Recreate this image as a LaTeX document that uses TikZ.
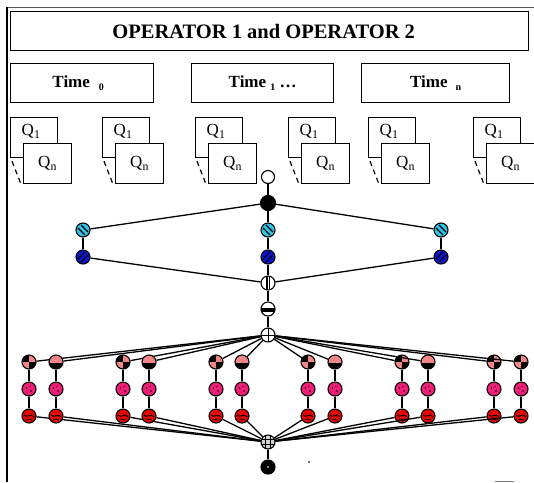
\documentclass[tikz,border=0pt]{standalone}
\usepackage{fontspec}
\setmainfont{Liberation Serif}
\definecolor{cyanc}{HTML}{2EC4E8}
\definecolor{bluec}{HTML}{0A14D2}
\definecolor{pinkc}{HTML}{F2878A}
\definecolor{magc}{HTML}{F01E78}
\definecolor{redc}{HTML}{E60000}
\tikzset{
  bigbox/.style={draw=black, line width=1.4pt, fill=white, anchor=north west, inner sep=0pt},
  qbox/.style={draw=black, line width=1.2pt, fill=white, anchor=north west, inner sep=0pt, minimum height=40pt},
  qtext/.style={font=\fontsize{17}{17}\selectfont, inner sep=0pt},
  conn/.style={line width=1.3pt},
  dot/.style={circle, draw=black, line width=1.1pt, minimum size=14pt, inner sep=0pt},
  wdot/.style={dot, fill=white},
  bdot/.style={dot, fill=black},
  cyandot/.style={dot, fill=cyanc, path picture={\begin{scope}[shift={(path picture bounding box.center)}]
     \draw[black, line width=1.1pt] (-5pt,2pt)--(2pt,-5pt) (-2pt,5pt)--(5pt,-2pt);\end{scope}}},
  bluedot/.style={dot, fill=bluec, path picture={\begin{scope}[shift={(path picture bounding box.center)}]
     \draw[black, line width=1.1pt] (-5pt,-2pt)--(2pt,5pt) (-2pt,-5pt)--(5pt,2pt);\end{scope}}},
  splitdot/.style={dot, fill=white, path picture={\begin{scope}[shift={(path picture bounding box.center)}]
     \fill[black] (-2.2pt,-8pt) rectangle (2.2pt,8pt); \fill[white] (-0.5pt,-8pt) rectangle (0.5pt,8pt);\end{scope}}},
  stripedot/.style={dot, fill=white, path picture={\begin{scope}[shift={(path picture bounding box.center)}]
     \fill[black] (-8pt,-2.6pt) rectangle (8pt,0.8pt);\end{scope}}},
  plusdot/.style={dot, fill=white, path picture={\begin{scope}[shift={(path picture bounding box.center)}]
     \draw[black, line width=1pt] (0pt,-8pt)--(0pt,8pt) (-8pt,0pt)--(8pt,0pt);\end{scope}}},
  hashdot/.style={dot, fill=gray!35, path picture={\begin{scope}[shift={(path picture bounding box.center)}]
     \draw[black, line width=0.8pt] (-2.5pt,-8pt)--(-2.5pt,8pt) (2.5pt,-8pt)--(2.5pt,8pt) (-8pt,-2.5pt)--(8pt,-2.5pt) (-8pt,2.5pt)--(8pt,2.5pt);\end{scope}}},
  enddot/.style={dot, fill=black, path picture={\begin{scope}[shift={(path picture bounding box.center)}]
     \fill[gray!70] (0pt,0pt) circle (1.1pt);\end{scope}}},
  pinka/.style={dot, fill=pinkc, path picture={\begin{scope}[shift={(path picture bounding box.center)}]
     \fill[black] (0pt,0pt) rectangle (-8pt,8pt); \fill[black] (0pt,0pt) rectangle (8pt,-8pt);\end{scope}}},
  pinkb/.style={dot, fill=pinkc, path picture={\begin{scope}[shift={(path picture bounding box.center)}]
     \fill[black] (-8pt,-1pt) rectangle (8pt,-8pt);\end{scope}}},
  magdot/.style={dot, fill=magc, path picture={\begin{scope}[shift={(path picture bounding box.center)}]
     \fill[black] (-2.5pt,1pt) circle (0.9pt); \fill[black] (2pt,-2pt) circle (0.9pt); \fill[black] (1pt,2.5pt) circle (0.7pt);\end{scope}}},
  reddot/.style={dot, fill=redc, path picture={\begin{scope}[shift={(path picture bounding box.center)}]
     \draw[black, line width=0.9pt] (-5pt,1pt) .. controls (-2pt,-3pt) and (2pt,4pt) .. (5pt,-1pt);
     \draw[black, line width=0.7pt] (-3pt,-3pt) .. controls (-1pt,-5pt) and (1pt,-2pt) .. (3pt,-4pt);\end{scope}}},
}
\begin{document}
\begin{tikzpicture}[x=1pt,y=-1pt]
\useasboundingbox[fill=white] (0,0) rectangle (534,482);
% frame
\draw[line width=1pt, gray!70!black] (7,7) coordinate (ftl) -- (534,7) coordinate (ftr);
\draw[line width=1.6pt] (7,7) coordinate (fl1) -- (7,482) coordinate (fl2);
% title
\node[bigbox, minimum width=518pt, minimum height=39pt] (title) at (10,11) {};
\node[font=\bfseries\fontsize{20.5}{21}\selectfont] (titlet) at ([shift={(-6pt,0pt)}]title.center) {OPERATOR 1 and OPERATOR 2};
% time boxes
\node[bigbox, minimum width=143pt, minimum height=39pt] (t0) at (10,63) {};
\node[bigbox, minimum width=142pt, minimum height=39pt] (t1) at (191,63) {};
\node[bigbox, minimum width=148pt, minimum height=39pt] (tn) at (361,63) {};
\node[font=\bfseries\fontsize{17}{17}\selectfont] (t0t) at ([shift={(-4pt,0pt)}]t0.center) {Time\hspace{9pt}\raisebox{-0.35ex}{\fontsize{10}{10}\selectfont 0}};
\node[font=\bfseries\fontsize{17}{17}\selectfont] (t1t) at (t1.center) {Time \raisebox{-0.35ex}{\fontsize{10}{10}\selectfont 1} \ldots};
\node[font=\bfseries\fontsize{17}{17}\selectfont] (tnt) at (tn.center) {Time\hspace{8pt}\raisebox{-0.35ex}{\fontsize{10}{10}\selectfont n}};
% Q stacks
\foreach \x [count=\i] in {10,102,195,288,368,473}{
  \node[qbox, minimum width=47pt] (qa\i) at (\x,117) {};
  \node[qtext] (qa\i t) at ([shift={(-3pt,6pt)}]qa\i.center) {Q\textsubscript{1}};
  \draw[line width=1.2pt, dash pattern=on 5pt off 4pt] ([shift={(2pt,-3pt)}]qa\i.south west) coordinate (da\i) -- ([shift={(11pt,-26pt)}]qa\i.south west) coordinate (db\i);
  \node[qbox, minimum width=48pt] (qb\i) at (\x+13,143) {};
  \node[qtext] (qb\i t) at (qb\i.center) {Q\textsubscript{n}};
}
% upper graph
\node[wdot, minimum size=13pt] (w) at (268,177) {};
\node[bdot, minimum size=15pt] (k) at (268,203) {};
\node[cyandot] (cL) at (83,230) {};
\node[cyandot] (cC) at (268,230) {};
\node[cyandot] (cR) at (441,230) {};
\node[bluedot] (bL) at (83,257) {};
\node[bluedot] (bC) at (268,257) {};
\node[bluedot] (bR) at (441,257) {};
\node[splitdot] (sp) at (268,283) {};
\node[stripedot] (st) at (268,309) {};
\node[plusdot] (cr) at (268,335) {};
\draw[conn] (w) -- (k);
\draw[conn] (k) -- (cL); \draw[conn] (k) -- (cC); \draw[conn] (k) -- (cR);
\draw[conn] (cL) -- (bL); \draw[conn] (cC) -- (bC); \draw[conn] (cR) -- (bR);
\draw[conn] (bL) -- (sp); \draw[conn] (bC) -- (sp); \draw[conn] (bR) -- (sp);
\draw[conn] (sp) -- (st); \draw[conn] (st) -- (cr);
% lower graph
\node[hashdot] (ch) at (268,442) {};
\node[enddot] (bk) at (268,467) {};
\draw[conn] (ch) -- (bk);
\foreach \x/\s [count=\i] in {29/pinka,56/pinkb,123/pinka,149/pinkb,216/pinka,242/pinkb,308/pinka,335/pinkb,402/pinka,428/pinkb,494/pinka,521/pinka}{
  \node[\s] (p\i) at (\x,362) {};
  \node[magdot] (m\i) at (\x,389) {};
  \node[reddot] (r\i) at (\x,416) {};
  \draw[conn] (cr) -- (p\i);
  \draw[conn] (p\i) -- (m\i);
  \draw[conn] (m\i) -- (r\i);
  \draw[conn] (r\i) -- (ch);
}
% stray marks
\fill (309,462) circle (0.9);
\draw[gray, line width=1pt] (495,481) coordinate (g1) -- (514,481) coordinate (g2);
\end{tikzpicture}
\end{document}
